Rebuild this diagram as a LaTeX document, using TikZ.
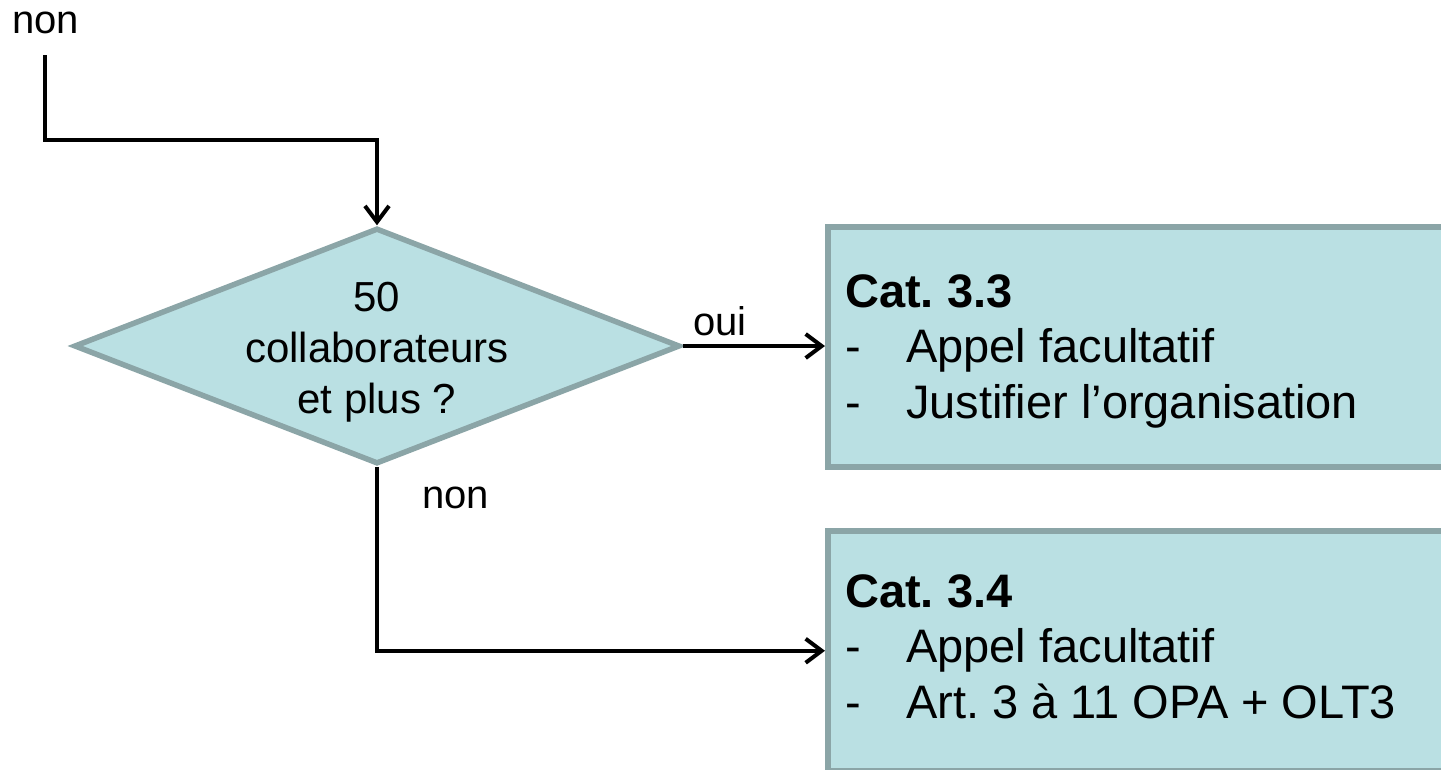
\documentclass[tikz,border=0pt]{standalone}
\usepackage{fontspec}
\setmainfont{Liberation Sans}
\usetikzlibrary{arrows.meta,shapes.geometric}
\definecolor{boxfill}{RGB}{186,224,227}
\definecolor{boxline}{RGB}{139,165,167}
\frenchspacing
\begin{document}
\begin{tikzpicture}[x=1pt,y=-1pt,
  shapestyle/.style={fill=boxfill, draw=boxline, line width=5.5pt},
  catbox/.style={shapestyle, rectangle, anchor=north west, minimum width=660pt, minimum height=240pt, inner sep=0pt},
  decision/.style={shapestyle, diamond, minimum width=606pt, minimum height=236pt, inner sep=0pt},
  arr/.style={line width=4pt, -{Straight Barb[length=16pt,width=24pt]}},
  labeltext/.style={font=\fontsize{40}{48}\selectfont, inner sep=0pt, anchor=base west},
  decisiontext/.style={font=\fontsize{42}{51}\selectfont, inner sep=0pt, align=center, anchor=north},
  boxtext/.style={font=\fontsize{47}{55.5}\selectfont, inner sep=0pt, align=left, anchor=north west},
]
\useasboundingbox (0,0) rectangle (1441,769);
\clip (0,0) rectangle (1441,769);

% shapes
\node[decision] (diam) at (377,346) {};
\node[decisiontext] (diamtext) at (377,277) {\rule{0pt}{34pt}50\\collaborateurs\\et plus ?};

\node[catbox] (cat33) at (825,224) {};
\node[boxtext] (cat33text) at (845,267) {\rule{0pt}{40pt}\textbf{Cat. 3.3}\\\makebox[61pt][l]{-}Appel facultatif\\\makebox[61pt][l]{-}Justifier l’organisation};

\node[catbox] (cat34) at (825,528) {};
\node[boxtext] (cat34text) at (845,567) {\rule{0pt}{40pt}\textbf{Cat. 3.4}\\\makebox[61pt][l]{-}Appel facultatif\\\makebox[61pt][l]{-}Art. 3 à 11 OPA + OLT3};

% labels
\node[labeltext] (nontop) at (12,33) {non};
\node[labeltext] (oui) at (693,335) {oui};
\node[labeltext] (nonbottom) at (422,508) {non};

% connectors
\coordinate (k0) at (45,55);
\coordinate (k1) at (45,140);
\draw[arr] (k0) -- (k1) -| (diam.north);
\draw[arr] (diam.east) -- (diam.east -| cat33.west);
\draw[arr] (diam.south) |- (cat34.west);
\end{tikzpicture}
\end{document}
